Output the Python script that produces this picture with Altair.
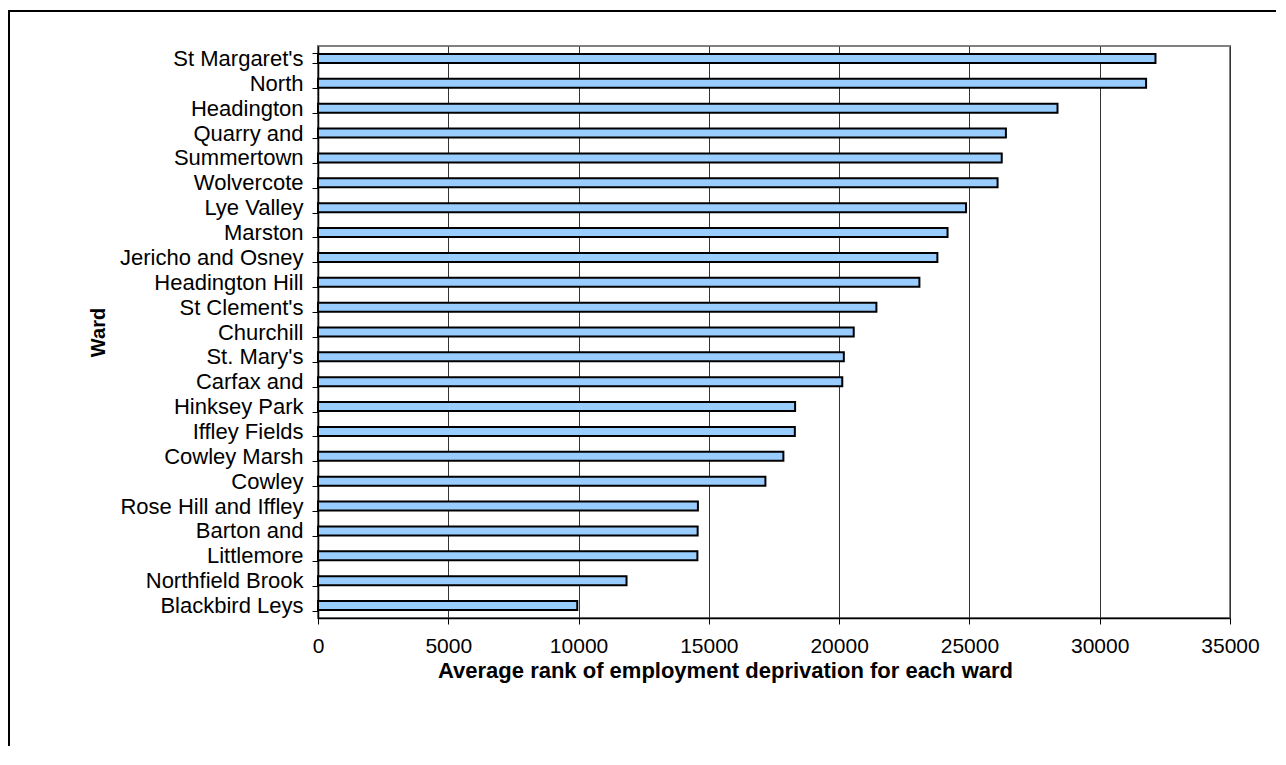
import altair as alt
import pandas as pd

wards = [
    "St Margaret's", "North", "Headington", "Quarry and", "Summertown",
    "Wolvercote", "Lye Valley", "Marston", "Jericho and Osney", "Headington Hill",
    "St Clement's", "Churchill", "St. Mary's", "Carfax and", "Hinksey Park",
    "Iffley Fields", "Cowley Marsh", "Cowley", "Rose Hill and Iffley", "Barton and",
    "Littlemore", "Northfield Brook", "Blackbird Leys",
]
ranks = [
    32140, 31780, 28380, 26400, 26240,
    26080, 24870, 24160, 23770, 23080,
    21430, 20560, 20180, 20120, 18310,
    18300, 17860, 17170, 14580, 14570,
    14560, 11840, 9950,
]
x_ticks = [0, 5000, 10000, 15000, 20000, 25000, 30000, 35000]

df = pd.DataFrame({"Ward": wards, "Rank": ranks})

FONT = "Liberation Sans"

bars = alt.Chart(df).mark_bar(
    size=9, fill="#99CCFF", stroke="#000000", strokeWidth=2
).encode(
    x=alt.X(
        "Rank:Q",
        scale=alt.Scale(domain=[0, 35000], nice=False, zero=True),
        axis=alt.Axis(
            values=x_ticks,
            format="d",
            title="Average rank of employment deprivation for each ward",
            grid=True,
            gridColor="#333333",
            gridWidth=1,
            domainColor="#000000",
            domainWidth=1.5,
            tickColor="#000000",
            tickSize=6,
            labelFontSize=21,
            labelColor="#000000",
            labelPadding=11,
            labelFlush=False,
            labelFont=FONT,
            titleFont=FONT,
            titleFontSize=22,
            titleFontWeight="bold",
            titleColor="#000000",
            titleX=407,
            titleY=52,
            titleBaseline="middle",
        ),
    ),
    y=alt.Y(
        "Ward:N",
        sort=wards,
        scale=alt.Scale(paddingInner=0.6, paddingOuter=0.3),
        axis=alt.Axis(
            title="Ward",
            tickBand="extent",
            grid=False,
            domainColor="#000000",
            domainWidth=1.5,
            tickColor="#000000",
            tickSize=6,
            labelFontSize=22,
            labelLimit=400,
            labelColor="#000000",
            labelPadding=9,
            labelFont=FONT,
            titleFont=FONT,
            titleFontSize=20,
            titleFontWeight="bold",
            titleColor="#000000",
            titleX=-220,
            titleY=286,
            titleBaseline="middle",
            titleAngle=270,
        ),
    ),
)

frame = alt.Chart(alt.Data(values=[{"f": 1}])).mark_rect(
    fill=None, fillOpacity=0, stroke="#000000", strokeWidth=2
).encode(
    x=alt.value(-309),
    x2=alt.value(2000),
    y=alt.value(-35),
    y2=alt.value(2000),
)

chart = alt.layer(frame, bars).properties(
    width=912,
    height=572,
    padding={"left": 310, "top": 38, "right": 46, "bottom": 128},
    autosize=alt.AutoSizeParams(type="none"),
).configure(
    font=FONT,
    background="#ffffff",
).configure_view(
    stroke="#808080",
    strokeWidth=2,
)

chart.save("out.html", embed_options={"renderer": "svg", "actions": False})
